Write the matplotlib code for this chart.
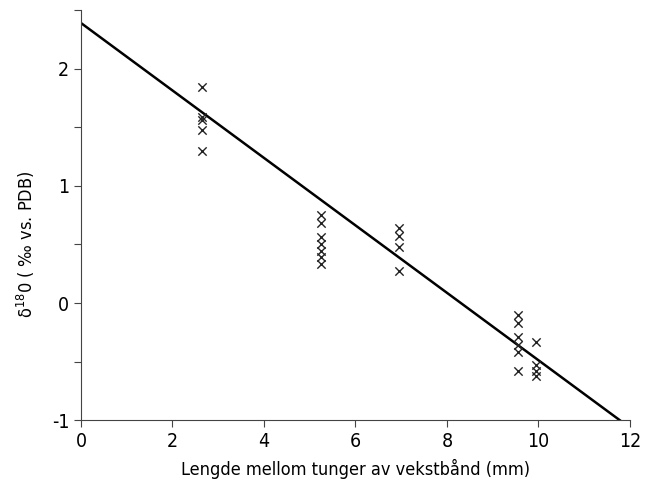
import numpy as np
import matplotlib
matplotlib.use('Agg')
from matplotlib import pyplot as plt

plt.rcParams['font.family'] = ['DejaVu Sans Condensed', 'Liberation Sans Narrow', 'DejaVu Sans']
plt.rcParams['font.stretch'] = 'condensed'

# avstand (mm) og delta 18O-verdier lest av figuren
x_a = [2.64, 2.64, 2.64, 2.64, 2.64]
y_a = [1.84, 1.59, 1.56, 1.48, 1.30]
x_b = [5.25, 5.25, 5.25, 5.25, 5.25, 5.25, 5.25]
y_b = [0.75, 0.68, 0.56, 0.50, 0.44, 0.39, 0.33]
x_c = [6.95, 6.95, 6.95, 6.95]
y_c = [0.64, 0.57, 0.48, 0.27]
x_d = [9.55, 9.55, 9.55, 9.55, 9.55, 9.55]
y_d = [-0.10, -0.17, -0.29, -0.36, -0.42, -0.58]
x_e = [9.95, 9.95, 9.95, 9.95]
y_e = [-0.33, -0.53, -0.58, -0.62]

# regresjonslinje
line_x = [0, 11.78]
line_y = [2.39, -1.0]

xs = np.array(x_a + x_b + x_c + x_d + x_e)
ys = np.array(y_a + y_b + y_c + y_d + y_e)

fig = plt.figure(figsize=(6.48, 4.83), dpi=100)
ax = fig.add_axes([0.125, 0.13, 0.847, 0.849])

ax.scatter(xs, ys, marker='x', s=36, color='#222222', linewidths=1.0, zorder=3)
ax.plot(line_x, line_y, color='black', lw=1.8, zorder=2)

ax.set_xlim(0, 12)
ax.set_ylim(-1, 2.5)
ax.set_xticks(np.arange(0, 13, 2))
ax.set_yticks([-1, 0, 1, 2])
ax.set_yticks(np.arange(-1, 2.51, 0.5), minor=True)
ax.set_yticklabels(['-1', '0', '1', '2'])
ax.tick_params(axis='both', labelsize=14, length=5, width=0.8, color='#444444', direction='out')
ax.tick_params(axis='y', which='minor', length=5, width=0.8, color='#444444')
ax.spines['top'].set_visible(False)
ax.spines['right'].set_visible(False)
ax.spines['left'].set_color('#444444')
ax.spines['bottom'].set_color('#444444')
ax.spines['bottom'].set_bounds(0, 12)

ax.set_xlabel('Lengde mellom tunger av vekstbånd (mm)', fontsize=13, labelpad=6)
ax.set_ylabel('δ$^{18}$0 ( ‰ vs. PDB)', fontsize=13)
ax.yaxis.set_label_coords(-0.08, 0.43)

plt.savefig('out.png', dpi=100)
